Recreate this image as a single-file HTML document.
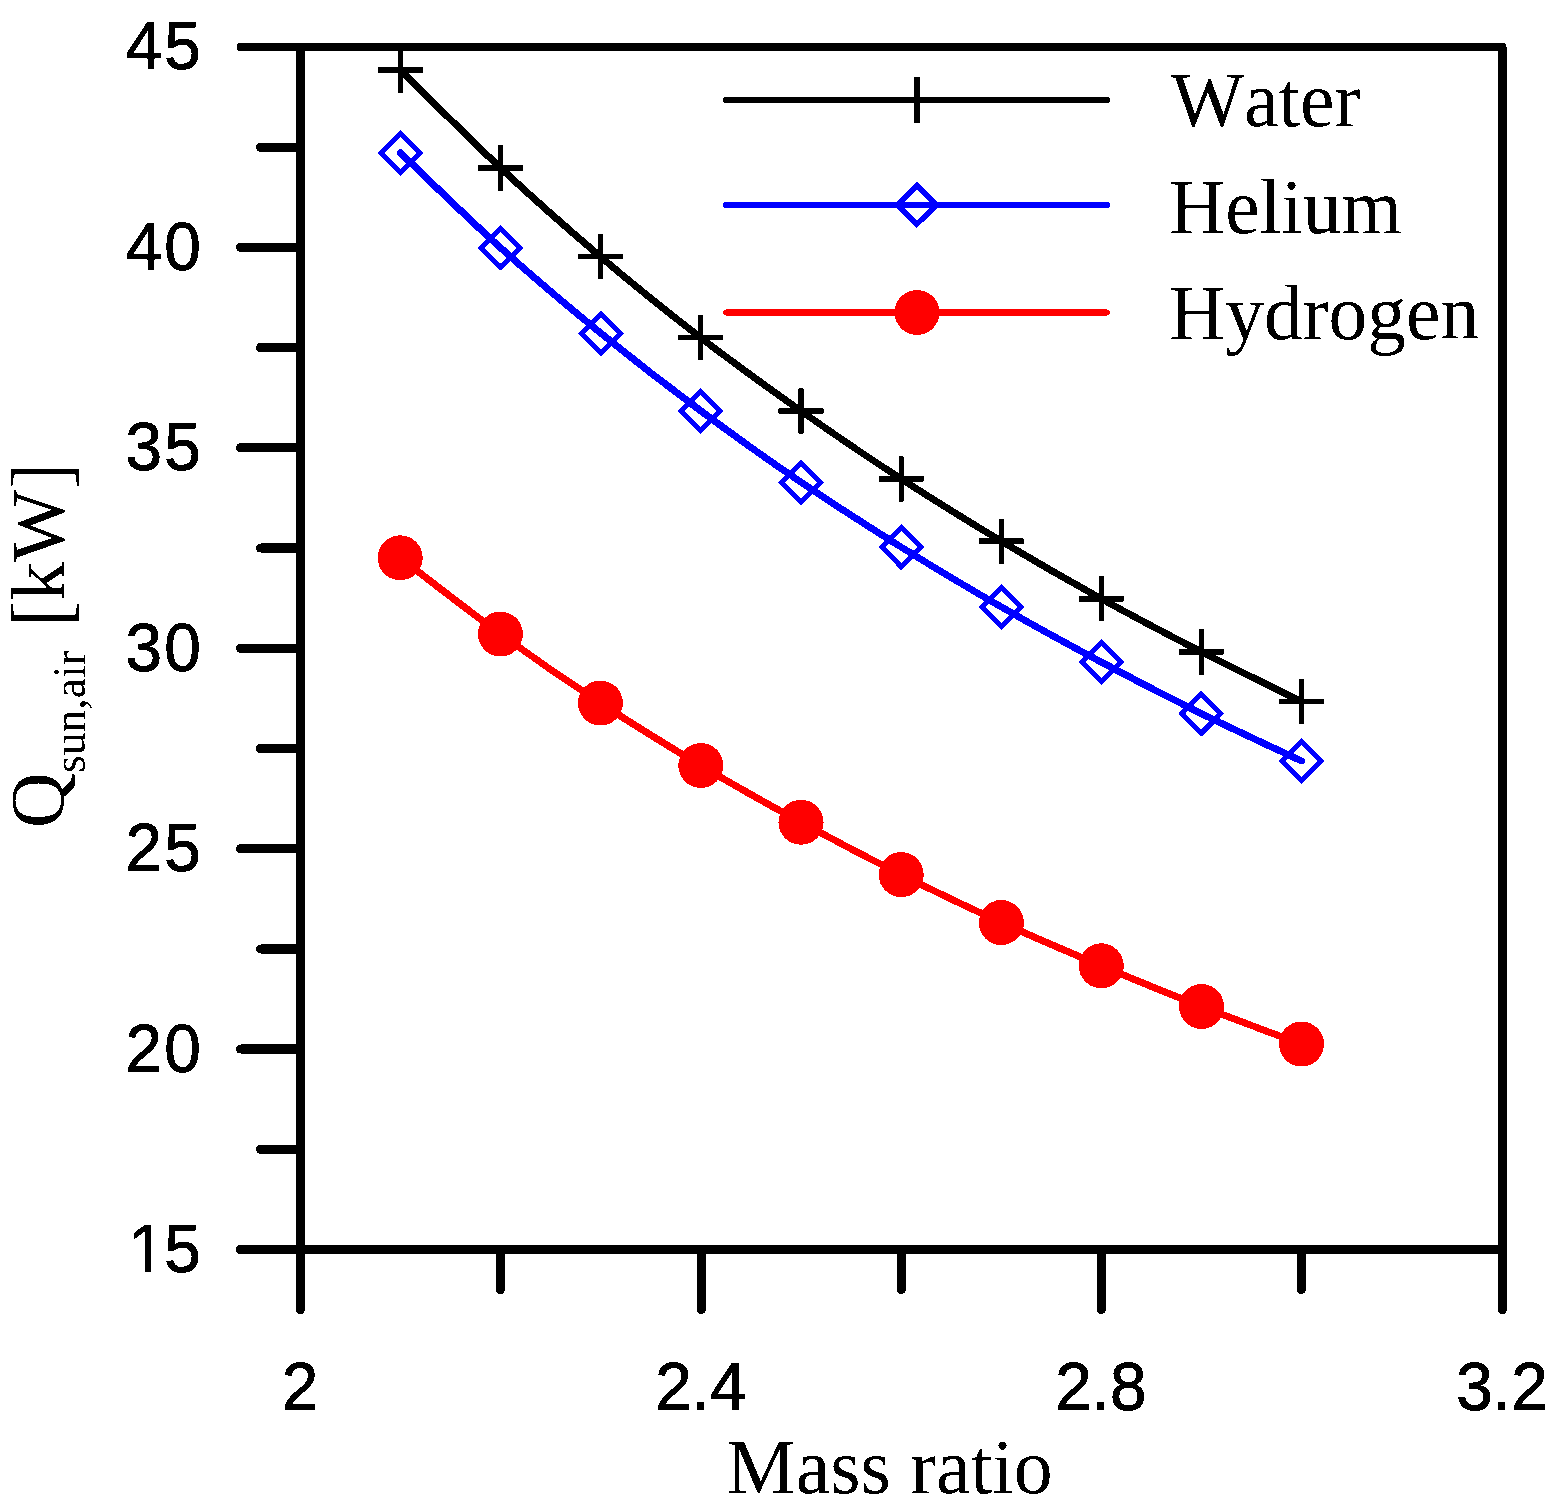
<!DOCTYPE html><html><head><meta charset="utf-8"><style>html,body{margin:0;padding:0;background:#fff;}text{font-kerning:none;}svg{display:block;}</style></head><body>
<svg width="1561" height="1510" viewBox="0 0 1561 1510">
<rect width="1561" height="1510" fill="#fff"/>
<defs><filter id="al" x="0" y="0" width="1561" height="1510" filterUnits="userSpaceOnUse" color-interpolation-filters="sRGB"><feComponentTransfer><feFuncA type="discrete" tableValues="0 1"/></feComponentTransfer></filter><clipPath id="c1"><path clip-rule="evenodd" d="M0 0H1561V1510H0Z M128 1264H145V1274H128Z M151 1264H164V1274H151Z"/></clipPath></defs>
<g filter="url(#al)">
<g stroke="#000" stroke-width="9" stroke-linecap="round" stroke-linejoin="round" fill="none">
<path d="M300.5 52 L300.5 1249.5 L1502.5 1249.5 L1502.5 52"/>
<path d="M240.5 47 L1502.5 47 L1502.5 53" stroke-width="8"/>
<line x1="300.5" y1="1249.5" x2="240.5" y2="1249.5"/>
<line x1="300.5" y1="1149.3" x2="260.5" y2="1149.3"/>
<line x1="300.5" y1="1049.1" x2="240.5" y2="1049.1"/>
<line x1="300.5" y1="948.9" x2="260.5" y2="948.9"/>
<line x1="300.5" y1="848.7" x2="240.5" y2="848.7"/>
<line x1="300.5" y1="748.5" x2="260.5" y2="748.5"/>
<line x1="300.5" y1="648.2" x2="240.5" y2="648.2"/>
<line x1="300.5" y1="548.0" x2="260.5" y2="548.0"/>
<line x1="300.5" y1="447.8" x2="240.5" y2="447.8"/>
<line x1="300.5" y1="347.6" x2="260.5" y2="347.6"/>
<line x1="300.5" y1="247.4" x2="240.5" y2="247.4"/>
<line x1="300.5" y1="147.2" x2="260.5" y2="147.2"/>
<line x1="300.5" y1="1249.5" x2="300.5" y2="1309.5"/>
<line x1="500.5" y1="1249.5" x2="500.5" y2="1289.5"/>
<line x1="701.4" y1="1249.5" x2="701.4" y2="1309.5"/>
<line x1="901.4" y1="1249.5" x2="901.4" y2="1289.5"/>
<line x1="1101.4" y1="1249.5" x2="1101.4" y2="1309.5"/>
<line x1="1301.4" y1="1249.5" x2="1301.4" y2="1289.5"/>
<line x1="1502.5" y1="1249.5" x2="1502.5" y2="1309.5"/>
</g>
<g font-family="'Liberation Sans', Arial, sans-serif" font-size="67.8" fill="#000" stroke="#000" stroke-width="0.9" letter-spacing="2.2">
<g clip-path="url(#c1)"><text transform="translate(203 1271.9) scale(0.97 1)" text-anchor="end">1<tspan dx="-3">5</tspan></text></g>
<text transform="translate(203 1071.5) scale(0.97 1)" text-anchor="end">20</text>
<text transform="translate(203 871.1) scale(0.97 1)" text-anchor="end">25</text>
<text transform="translate(203 670.6) scale(0.97 1)" text-anchor="end">30</text>
<text transform="translate(203 470.2) scale(0.97 1)" text-anchor="end">35</text>
<text transform="translate(203 269.8) scale(0.97 1)" text-anchor="end">40</text>
<text transform="translate(203 69.4) scale(0.97 1)" text-anchor="end">45</text>
</g>
<g font-family="'Liberation Sans', Arial, sans-serif" font-size="67.8" fill="#000" stroke="#000" stroke-width="0.9" text-anchor="middle">
<text transform="translate(300.0 1409.8) scale(0.97 1)">2</text>
<text transform="translate(700.9 1409.8) scale(0.97 1)">2.4</text>
<text transform="translate(1100.9 1409.8) scale(0.97 1)">2.8</text>
<text transform="translate(1502.0 1409.8) scale(0.97 1)">3.2</text>
</g>
<text x="726.5" y="1492.5" font-family="'Liberation Serif', 'Times New Roman', serif" font-size="77.8" fill="#000">Mass ratio</text>
<g font-family="'Liberation Serif', 'Times New Roman', serif" font-size="77" fill="#000">
<text transform="translate(63 828) rotate(-90)">Q</text>
<text transform="translate(84.5 772.9) rotate(-90)" font-size="45.5">sun,air</text>
<text transform="translate(68 626.6) rotate(-90) scale(1 1.067)">[</text>
<text transform="translate(64 600.5) rotate(-90)">kW</text>
<text transform="translate(68 488.6) rotate(-90) scale(1 1.067)">]</text>
</g>
<path d="M400.5 69.9 C417.2 86.2 467.2 136.8 500.5 167.9 C533.8 199.0 567.1 228.3 600.4 256.6 C633.7 284.9 667.1 311.9 700.5 337.6 C733.9 363.3 767.5 387.4 801.0 411.0 C834.5 434.6 867.8 457.2 901.2 478.9 C934.6 500.6 968.0 521.2 1001.4 541.2 C1034.8 561.2 1068.0 580.3 1101.3 598.8 C1134.6 617.2 1168.1 634.8 1201.4 651.9 C1234.8 669.0 1284.7 693.3 1301.4 701.6" fill="none" stroke="#000" stroke-width="7" stroke-linecap="round" stroke-linejoin="round"/>
<path d="M400.5 152.9 C417.1 168.7 467.0 217.6 500.4 247.7 C533.8 277.8 567.5 306.0 600.9 333.2 C634.3 360.4 667.4 386.1 700.8 410.9 C734.1 435.7 767.6 459.5 801.0 482.2 C834.4 504.9 867.8 526.3 901.2 547.1 C934.6 567.9 968.0 587.8 1001.4 607.0 C1034.8 626.2 1068.0 644.3 1101.3 662.1 C1134.6 679.9 1168.1 697.1 1201.4 713.6 C1234.8 730.1 1284.7 753.0 1301.4 760.9" fill="none" stroke="#00f" stroke-width="7" stroke-linecap="round" stroke-linejoin="round"/>
<path d="M400.2 557.8 C416.9 570.5 467.0 609.8 500.4 634.0 C533.8 658.2 567.0 681.1 600.4 703.0 C633.8 724.9 667.4 745.6 700.8 765.5 C734.2 785.4 767.6 804.1 801.0 822.3 C834.4 840.5 867.8 857.9 901.2 874.6 C934.6 891.3 968.0 907.3 1001.4 922.5 C1034.8 937.7 1068.0 951.8 1101.3 965.8 C1134.6 979.8 1168.1 993.5 1201.5 1006.5 C1234.9 1019.5 1284.8 1037.8 1301.5 1044.0" fill="none" stroke="#f00" stroke-width="7" stroke-linecap="round" stroke-linejoin="round"/>
<g stroke="#000" stroke-width="5.3" fill="none">
<path d="M378.0 69.9H423.0M400.5 47.4V92.4"/>
<path d="M478.0 167.9H523.0M500.5 145.4V190.4"/>
<path d="M577.9 256.6H622.9M600.4 234.1V279.1"/>
<path d="M678.0 337.6H723.0M700.5 315.1V360.1"/>
<path d="M778.5 411.0H823.5M801.0 388.5V433.5"/>
<path d="M878.7 478.9H923.7M901.2 456.4V501.4"/>
<path d="M978.9 541.2H1023.9M1001.4 518.7V563.7"/>
<path d="M1078.8 598.8H1123.8M1101.3 576.3V621.3"/>
<path d="M1178.9 651.9H1223.9M1201.4 629.4V674.4"/>
<path d="M1278.9 701.6H1323.9M1301.4 679.1V724.1"/>
</g>
<g stroke="#00f" stroke-width="5" fill="none" stroke-linejoin="miter">
<path d="M400.5 133.4L420.0 152.9L400.5 172.4L381.0 152.9Z"/>
<path d="M500.4 228.2L519.9 247.7L500.4 267.2L480.9 247.7Z"/>
<path d="M600.9 313.7L620.4 333.2L600.9 352.7L581.4 333.2Z"/>
<path d="M700.8 391.4L720.3 410.9L700.8 430.4L681.3 410.9Z"/>
<path d="M801.0 462.7L820.5 482.2L801.0 501.7L781.5 482.2Z"/>
<path d="M901.2 527.6L920.7 547.1L901.2 566.6L881.7 547.1Z"/>
<path d="M1001.4 587.5L1020.9 607.0L1001.4 626.5L981.9 607.0Z"/>
<path d="M1101.3 642.6L1120.8 662.1L1101.3 681.6L1081.8 662.1Z"/>
<path d="M1201.4 694.1L1220.9 713.6L1201.4 733.1L1181.9 713.6Z"/>
<path d="M1301.4 741.4L1320.9 760.9L1301.4 780.4L1281.9 760.9Z"/>
</g>
<g fill="#f00">
<circle cx="400.2" cy="557.8" r="22.5"/>
<circle cx="500.4" cy="634.0" r="22.5"/>
<circle cx="600.4" cy="703.0" r="22.5"/>
<circle cx="700.8" cy="765.5" r="22.5"/>
<circle cx="801.0" cy="822.3" r="22.5"/>
<circle cx="901.2" cy="874.6" r="22.5"/>
<circle cx="1001.4" cy="922.5" r="22.5"/>
<circle cx="1101.3" cy="965.8" r="22.5"/>
<circle cx="1201.5" cy="1006.5" r="22.5"/>
<circle cx="1301.5" cy="1044.0" r="22.5"/>
</g>
<g stroke-width="6" stroke-linecap="round" fill="none">
<line x1="726" y1="100" x2="1107" y2="100" stroke="#000"/>
<line x1="726" y1="205" x2="1107" y2="205" stroke="#00f"/>
<line x1="726" y1="312.5" x2="1107" y2="312.5" stroke="#f00"/>
</g>
<path d="M917 77V123" stroke="#000" stroke-width="6" fill="none"/>
<path d="M917 185.5L936.5 205L917 224.5L897.5 205Z" stroke="#00f" stroke-width="5" fill="none"/>
<circle cx="917" cy="312.5" r="22.5" fill="#f00"/>
<g font-family="'Liberation Serif', 'Times New Roman', serif" font-size="77.5" fill="#000">
<text x="1171" y="125.6">Water</text>
<text x="1169.3" y="232.9">Helium</text>
<text x="1169.3" y="338.6">Hydrogen</text>
</g>
</g>
</svg></body></html>
